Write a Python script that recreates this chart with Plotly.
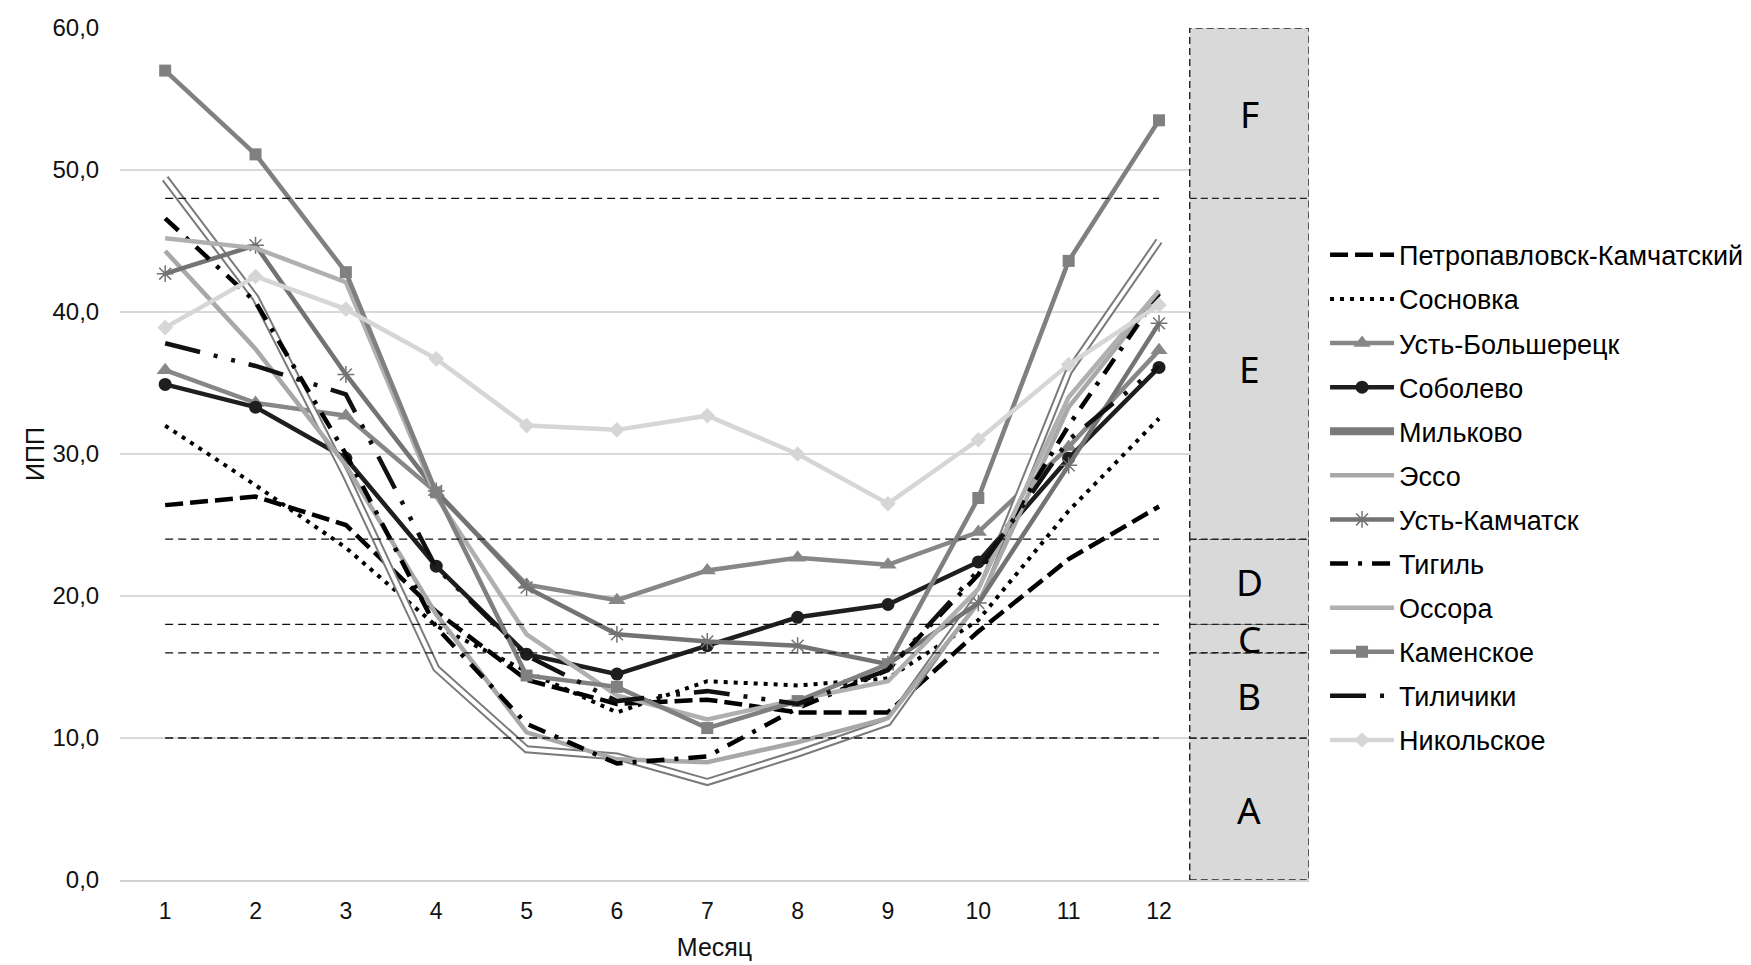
import plotly.graph_objects as go

months = list(range(1, 13))

petropavlovsk = [26.4, 27.0, 25.0, 18.9, 14.1, 12.4, 12.7, 11.8, 11.8, 17.5, 22.6, 26.3]
sosnovka = [32.0, 27.8, 23.4, 17.9, 14.7, 11.8, 14.0, 13.7, 14.2, 18.3, 26.0, 32.5]
ust_bolsheretsk = [35.9, 33.6, 32.7, 27.3, 20.8, 19.7, 21.8, 22.7, 22.2, 24.5, 30.5, 37.3]
sobolevo = [34.9, 33.3, 29.7, 22.1, 15.9, 14.5, 16.5, 18.5, 19.4, 22.4, 29.7, 36.1]
milkovo = [49.4, 41.0, 28.5, 14.9, 9.2, 8.7, 6.9, 8.9, 11.1, 20.0, 35.8, 45.0]
esso = [44.3, 37.4, 29.2, 18.7, 10.4, 8.5, 8.3, 9.7, 11.4, 19.5, 33.3, 41.3]
ust_kamchatsk = [42.7, 44.7, 35.6, 27.4, 20.6, 17.3, 16.8, 16.5, 15.2, 19.5, 29.2, 39.2]
tigil = [46.6, 40.7, 30.0, 17.8, 11.0, 8.2, 8.7, 12.1, 14.8, 21.5, 32.0, 41.3]
ossora = [45.2, 44.5, 42.1, 27.0, 17.3, 13.0, 11.3, 12.7, 14.0, 20.5, 34.0, 41.5]
kamenskoe = [57.0, 51.1, 42.8, 27.3, 14.4, 13.6, 10.7, 12.6, 15.2, 26.9, 43.6, 53.5]
tilichiki = [37.8, 36.2, 34.2, 22.0, 15.8, 12.6, 13.3, 12.4, 14.8, 21.8, 31.0, 36.2]
nikolskoe = [38.9, 42.5, 40.2, 36.7, 32.0, 31.7, 32.7, 30.0, 26.5, 31.0, 36.3, 40.5]

zone_labels = ["A", "B", "C", "D", "E", "F"]
zone_bounds = [0, 10, 16, 18, 24, 48, 60]
threshold_lines = [10, 16, 18, 24, 48]

y_ticks = [0, 10, 20, 30, 40, 50, 60]
x_title = "Месяц"
y_title = "ИПП"

FONT = "Liberation Sans, Arial, sans-serif"
W, H = 1751, 965
ML, MR, MT, MB = 112, 450, 20, 93

fig = go.Figure()

def add(name, y, color, width=4.5, dash="solid", symbol=None, msize=12, mline=None, group=None, showlegend=True):
    mode = "lines+markers" if symbol else "lines"
    marker = None
    if symbol:
        marker = dict(symbol=symbol, size=msize, color=color)
        if mline:
            marker["line"] = mline
    fig.add_trace(go.Scatter(
        x=months, y=y, name=name, mode=mode,
        line=dict(color=color, width=width, dash=dash),
        marker=marker, legendgroup=group or name, showlegend=showlegend,
    ))

add("Петропавловск-Камчатский", petropavlovsk, "#000000", 4.5, "18px,7px")
add("Сосновка", sosnovka, "#000000", 4, "4px,6px")
add("Усть-Большерецк", ust_bolsheretsk, "#878787", 4.5, symbol="triangle-up", msize=15)
add("Соболево", sobolevo, "#1e1e1e", 4.5, symbol="circle", msize=13)
add("Мильково", milkovo, "#7a7a7a", 8)
add("Мильково", milkovo, "#ffffff", 4, group="Мильково", showlegend=False)
add("Эссо", esso, "#a8a8a8", 4.5)
add("Усть-Камчатск", ust_kamchatsk, "#737373", 4.5, symbol="asterisk-open", msize=14,
    mline=dict(color="#8a8a8a", width=1.5))
add("Тигиль", tigil, "#000000", 4.5, "18px,10px,4px,10px")
add("Оссора", ossora, "#b0b0b0", 4.5)
add("Каменское", kamenskoe, "#808080", 4.5, symbol="square", msize=12)
add("Тиличики", tilichiki, "#111111", 4.5, "36px,14px,4px,14px,4px,14px")
add("Никольское", nikolskoe, "#d6d6d6", 4.5, symbol="diamond", msize=12)

for t in threshold_lines:
    fig.add_trace(go.Scatter(
        x=[months[0], months[-1]], y=[t, t], mode="lines",
        line=dict(color="#111111", width=1.3, dash="8px,5px"),
        showlegend=False, hoverinfo="skip", legendgroup="thresholds",
    ))

BOX_X0, BOX_X1 = 12.34, 13.66
for i, lab in enumerate(zone_labels):
    y0, y1 = zone_bounds[i], zone_bounds[i + 1]
    fig.add_shape(type="rect", xref="x", yref="y", x0=BOX_X0, x1=BOX_X1, y0=y0, y1=y1,
                  fillcolor="#d9d9d9", line=dict(color="#222222", width=1.4, dash="7px,4px"),
                  layer="above")
    fig.add_annotation(x=(BOX_X0 + BOX_X1) / 2, y=(y0 + y1) / 2, text=lab, showarrow=False,
                       xref="x", yref="y",
                       font=dict(family="Noto Sans, Open Sans, sans-serif", size=37, color="#000000"))

fig.update_layout(
    width=W, height=H,
    margin=dict(l=ML, r=MR, t=MT, b=MB, autoexpand=False),
    paper_bgcolor="white", plot_bgcolor="white",
    separators=", ",
    font=dict(family=FONT, size=23, color="#111111"),
    showlegend=True,
    legend=dict(
        x=1.0135, xanchor="left", y=0.762, yanchor="top",
        font=dict(family=FONT, size=27, color="#000000"),
        itemwidth=64, tracegroupgap=6, traceorder="grouped",
        bgcolor="rgba(0,0,0,0)",
    ),
)

fig.update_xaxes(
    range=[0.5, BOX_X1], tickmode="array", tickvals=months, ticktext=[str(m) for m in months],
    showgrid=False, zeroline=False, showline=True, linecolor="#d0d0d0", linewidth=1.5,
    ticks="outside", ticklen=10, tickcolor="rgba(0,0,0,0)", automargin=False,
    tickfont=dict(family=FONT, size=23, color="#111111"),
    title=dict(text=x_title, font=dict(family=FONT, size=25, color="#111111"), standoff=15),
)
fig.update_yaxes(
    range=[0, 60], tickmode="array", tickvals=y_ticks, tickformat=".1f",
    showgrid=True, gridcolor="#d9d9d9", gridwidth=1.5, zeroline=False, showline=False,
    ticks="outside", ticklen=15, tickcolor="rgba(0,0,0,0)", automargin=False,
    ticklabeloverflow="allow",
    tickfont=dict(family=FONT, size=24, color="#111111"),
    title=dict(text=y_title, font=dict(family=FONT, size=25, color="#111111"), standoff=0),
)

fig.write_html("out.html", config={"displayModeBar": False})
